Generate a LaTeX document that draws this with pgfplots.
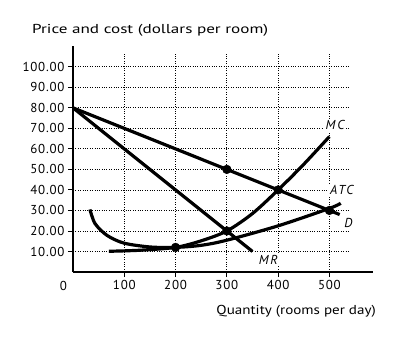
\documentclass[border=0pt]{standalone}
\usepackage{pgfplots}
\pgfplotsset{compat=1.18}
\usepackage{fontspec}
\setmainfont{PT Sans}
\newfontfamily\lbl[LetterSpace=14]{PT Sans}
\newfontfamily\tck[LetterSpace=6]{PT Sans}
\begin{document}
\begin{tikzpicture}[font=\fontsize{13}{15}\selectfont]
\useasboundingbox (-73bp,-66bp) rectangle (325bp,272bp);
\begin{axis}[
  at={(0,0)}, anchor=south west,
  scale only axis, width=300bp, height=225.7bp,
  xmin=0, xmax=585, ymin=0, ymax=110,
  axis lines=left,
  axis line style={line width=1.3pt, -},
  tick align=outside,
  major tick length=5bp,
  tick style={line width=0.9pt, black},
  xtick={100,200,300,400,500},
  ytick={10,20,30,40,50,60,70,80,90,100},
  every tick label/.append style={font=\fontsize{13}{15}\selectfont\tck},
  xticklabel={\pgfmathprintnumber[assume math mode=true]{\tick}},
  yticklabel={\pgfmathprintnumber[fixed, fixed zerofill, precision=2, assume math mode=true]{\tick}},
  clip=false,
]
% grid
\pgfplotsinvokeforeach{10,20,30,40,50,60,70,80,90,100}{
  \draw[line width=0.8pt, dash pattern=on 0.8pt off 1.6pt] (axis cs:0,#1) -- (axis cs:540,#1);
}
\pgfplotsinvokeforeach{100,200,300,400,500}{
  \draw[line width=0.8pt, dash pattern=on 0.8pt off 1.6pt] (axis cs:#1,0) -- (axis cs:#1,107);
}
% labels
\node[fill=white, inner sep=1.5pt] at (axis cs:511,71.5) {\lbl\itshape MC};
\node[fill=white, inner sep=1.5pt] at (axis cs:524,40) {\lbl\itshape ATC};
\node[fill=white, inner sep=1.5pt] at (axis cs:537,24) {\lbl\itshape D};
\node[fill=white, inner sep=1.5pt] at (axis cs:381,6) {\lbl\itshape MR};
% curves
\addplot[line width=3.2pt, no markers] coordinates {(0,80) (520,28)};
\addplot[line width=3.2pt, no markers] coordinates {(0,80) (350,10)};
\addplot[line width=3.2pt, no markers, smooth] coordinates {
  (70,10.1) (130,10.6) (200,12) (250,15.2) (300,20) (350,28.5) (400,40) (450,52.5) (500,66)};
\addplot[line width=3.2pt, no markers, smooth] coordinates {
  (33,30.5) (43,23.6) (66,17.9) (99,14.1) (150,12.2) (200,12) (250,13) (300,15.5) (400,22.5) (500,31) (522,33.5)};
\addplot[only marks, mark=*, mark size=4.4pt] coordinates {(200,12) (300,20) (300,50) (400,40) (500,30)};
\end{axis}
\node[anchor=base, font=\fontsize{13}{15}\selectfont\tck] at (-9.7bp,-18.7bp) {0};
\node[anchor=base west, inner sep=0pt] at (-41bp,238bp) {\resizebox{236bp}{\height}{Price and cost (dollars per room)}};
\node[anchor=base east, inner sep=0pt] at (303bp,-42.3bp) {\resizebox{159.3bp}{\height}{Quantity (rooms per day)}};
\end{tikzpicture}
\end{document}
